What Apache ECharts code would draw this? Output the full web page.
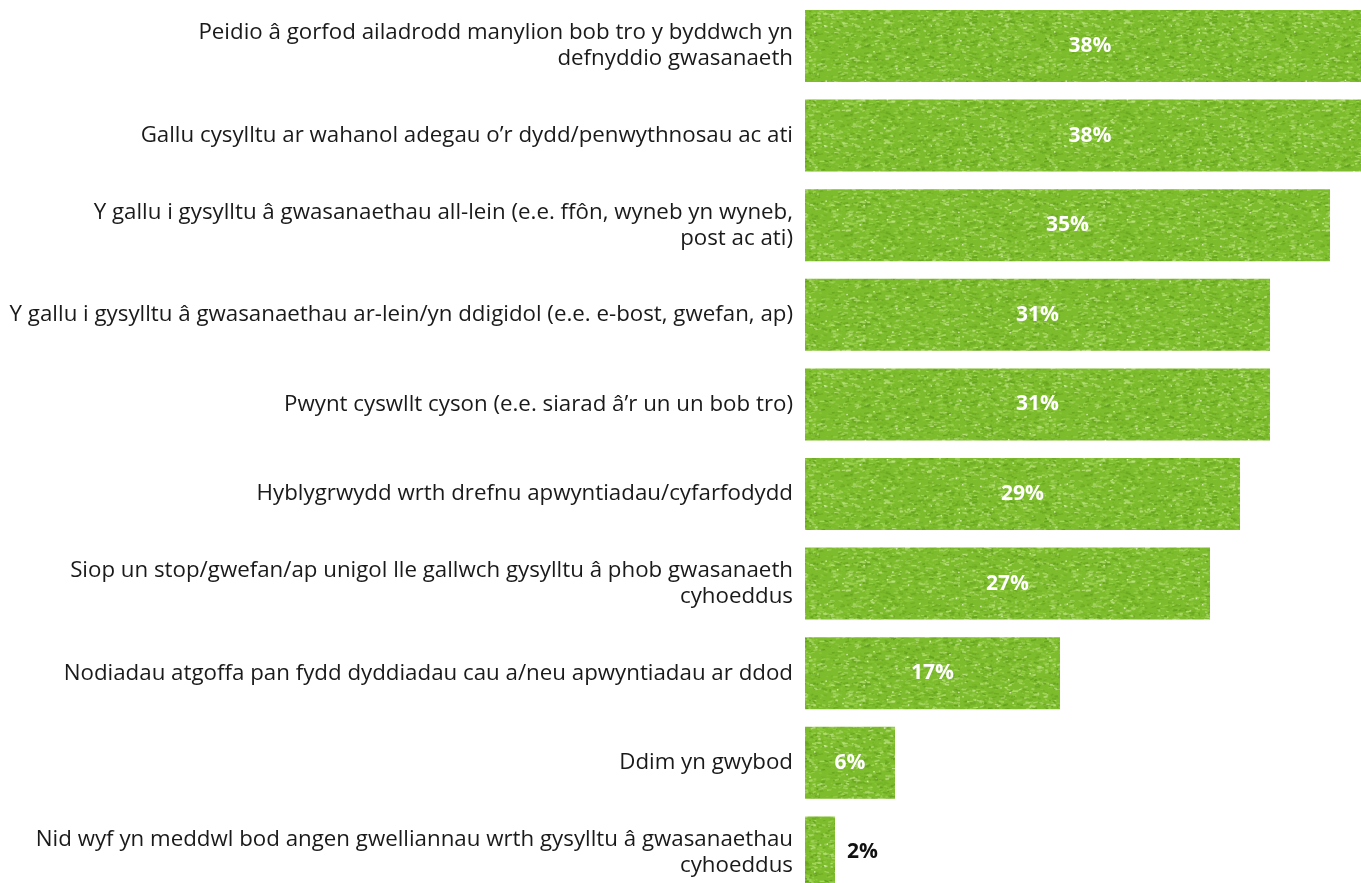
<!DOCTYPE html>
<html>
<head>
<meta charset="utf-8">
<script src="https://cdn.jsdelivr.net/npm/echarts@6/dist/echarts.min.js"></script>
<style>
  html, body { margin: 0; padding: 0; background: #ffffff; overflow: hidden; }
  #chart { width: 1380px; height: 900px; }
</style>
</head>
<body>
<div id="chart"></div>
<script>
// categories, top to bottom
var categories = [
  "Peidio â gorfod ailadrodd manylion bob tro y byddwch yn\ndefnyddio gwasanaeth",
  "Gallu cysylltu ar wahanol adegau o’r dydd/penwythnosau ac ati",
  "Y gallu i gysylltu â gwasanaethau all-lein (e.e. ffôn, wyneb yn wyneb,\npost ac ati)",
  "Y gallu i gysylltu â gwasanaethau ar-lein/yn ddigidol (e.e. e-bost, gwefan, ap)",
  "Pwynt cyswllt cyson (e.e. siarad â’r un un bob tro)",
  "Hyblygrwydd wrth drefnu apwyntiadau/cyfarfodydd",
  "Siop un stop/gwefan/ap unigol lle gallwch gysylltu â phob gwasanaeth\ncyhoeddus",
  "Nodiadau atgoffa pan fydd dyddiadau cau a/neu apwyntiadau ar ddod",
  "Ddim yn gwybod",
  "Nid wyf yn meddwl bod angen gwelliannau wrth gysylltu â gwasanaethau\ncyhoeddus"
];
var percents = [38, 38, 35, 31, 31, 29, 27, 17, 6, 2];

// grass-like texture for the bars
function grassTexture() {
  var c = document.createElement("canvas");
  c.width = 240; c.height = 120;
  var ctx = c.getContext("2d");
  ctx.fillStyle = "#7dbc2c";
  ctx.fillRect(0, 0, c.width, c.height);
  var s = 12345;
  function rnd() { s = (s * 16807) % 2147483647; return s / 2147483647; }
  var cols = ["#6aa822", "#8cc83a", "#98d04a", "#62a01e", "#a9d966", "#74b226", "#b9e07e"];
  ctx.filter = "blur(0.5px)";
  for (var i = 0; i < 3200; i++) {
    var x = rnd() * c.width, y = rnd() * c.height;
    var len = 1.5 + rnd() * 4, ang = -0.35 + rnd() * 0.7;
    ctx.strokeStyle = cols[Math.floor(rnd() * cols.length)];
    ctx.globalAlpha = 0.45 + rnd() * 0.5;
    ctx.lineWidth = 1 + rnd();
    ctx.beginPath();
    ctx.moveTo(x, y);
    ctx.lineTo(x + Math.cos(ang) * len, y + Math.sin(ang) * len);
    ctx.stroke();
  }
  ctx.filter = "none";
  ctx.globalAlpha = 0.85;
  for (var j = 0; j < 40; j++) {
    ctx.fillStyle = "#e4f5c4";
    ctx.fillRect(rnd() * c.width, rnd() * c.height, 1.5, 1.5);
  }
  return c;
}
var tex = grassTexture();

var barData = percents.map(function (v) {
  if (v < 4) {
    return { value: v, label: { position: "right", color: "#111111", distance: 12 } };
  }
  return v;
});

var mychart = echarts.init(document.getElementById("chart"));
var option = {
  animation: false,
  grid: { left: 805, width: 570, top: 1.2, height: 896 },
  xAxis: {
    type: "value",
    min: 0,
    max: 38,
    show: false
  },
  yAxis: {
    type: "category",
    inverse: true,
    data: categories,
    axisLine: { show: false },
    axisTick: { show: false },
    axisLabel: {
      margin: 12,
      fontFamily: "Open Sans",
      fontSize: 22.3,
      lineHeight: 26,
      color: "#1a1a1a",
      align: "right"
    }
  },
  series: [
    {
      type: "bar",
      data: barData,
      barWidth: 72,
      itemStyle: { color: { image: tex, repeat: "repeat" } },
      label: {
        show: true,
        position: "inside",
        formatter: "{c}%",
        fontFamily: "Open Sans",
        fontWeight: "bold",
        fontSize: 21,
        color: "#ffffff"
      }
    }
  ]
};
mychart.setOption(option, true);
</script>
</body>
</html>
